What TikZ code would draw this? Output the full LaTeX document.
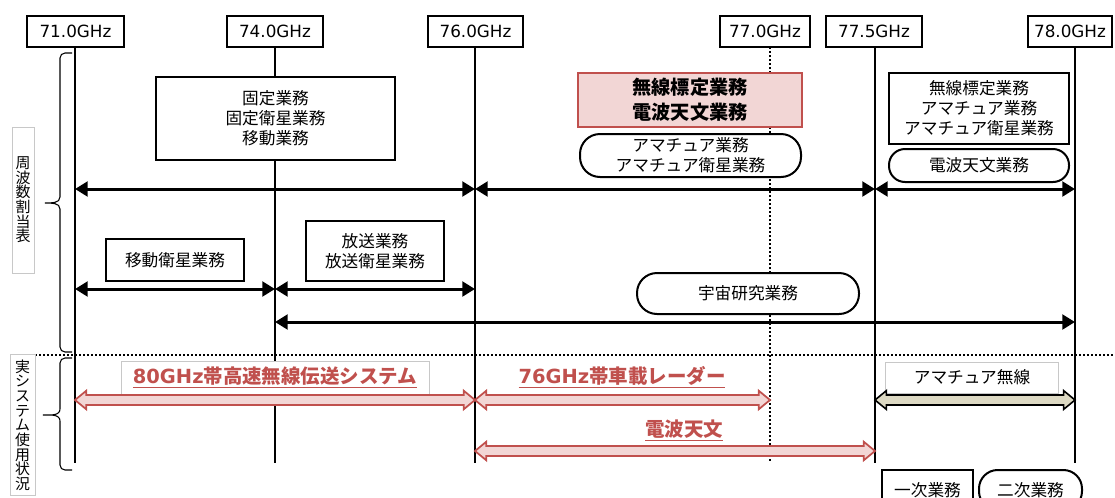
\documentclass[tikz,border=0pt]{standalone}
\usepackage{fontspec}
\setmainfont{DejaVu Sans}
\newfontfamily\jp{Noto Sans CJK JP}
\usetikzlibrary{arrows.meta,calc}
\definecolor{rd}{RGB}{192,80,77}
\definecolor{pk}{RGB}{242,214,213}
\definecolor{kh}{RGB}{221,217,195}
\definecolor{lg}{RGB}{200,200,200}
\newcommand\harr[3]{\draw[#3] let \p1=#1, \p2=#2 in
  (\x1,\y1) -- (\x1+8.5pt,\y1+7pt) -- (\x1+8.5pt,\y1+3.75pt) -- (\x2-8.5pt,\y1+3.75pt)
  -- (\x2-8.5pt,\y1+7pt) -- (\x2,\y1) -- (\x2-8.5pt,\y1-7pt) -- (\x2-8.5pt,\y1-3.75pt)
  -- (\x1+8.5pt,\y1-3.75pt) -- (\x1+8.5pt,\y1-7pt) -- cycle;}
\begin{document}
\begin{tikzpicture}[x=0.75pt,y=-0.75pt,
  freq/.style={draw,line width=1.5pt,minimum height=23.25pt,inner sep=0pt,font=\fontsize{12.6}{15}\selectfont},
  svc/.style={draw,line width=1.5pt,align=center,inner sep=0pt,font=\jp\fontsize{12.5}{15}\selectfont},
  pill/.style={svc,rounded corners=#1},
  vline/.style={line width=1.5pt},
  dline/.style={line width=1.2pt,dash pattern=on 1.5pt off 1.5pt},
  barr/.style={line width=2.25pt,{Triangle[length=9.5pt,width=11pt]}-{Triangle[length=9.5pt,width=11pt]}},
  redarr/.style={draw=rd,fill=pk,line width=1.3pt,line join=miter},
  khakiarr/.style={draw=black,fill=kh,line width=1.2pt,line join=miter},
  thinbox/.style={draw=lg,line width=0.75pt,fill=white,inner sep=0pt},
  redtxt/.style={text=rd,font=\jp\bfseries\fontsize{14.6}{18}\selectfont,inner sep=0pt},
  vlab/.style={draw=lg,line width=0.75pt,align=center,inner sep=0pt,font=\jp\fontsize{11.2}{11}\selectfont},
  brc/.style={line width=0.8pt}
]
\useasboundingbox (0,0) rectangle (1115,497);

% frequency labels
\node[freq,minimum width=72.75pt] (f71) at (75.5,31.5) {71.0GHz};
\node[freq,minimum width=72pt] (f74) at (275,31.5) {74.0GHz};
\node[freq,minimum width=71.25pt] (f76) at (475.5,31.5) {76.0GHz};
\node[freq,minimum width=67.5pt] (f77) at (765,31.5) {77.0GHz};
\node[freq,minimum width=72pt] (f775) at (874,31.5) {77.5GHz};
\node[freq,minimum width=63pt] (f78) at (1070,31.5) {78.0GHz};

\coordinate (x71) at (75,47);
\coordinate (x74) at (275,47);
\coordinate (x76) at (475,47);
\coordinate (x77) at (770,47);
\coordinate (x775) at (875,47);
\coordinate (x78) at (1075,47);
\coordinate (ybot) at (0,463);

\draw[vline] (x71) -- (x71 |- ybot);
\draw[vline] (x74) -- (x74 |- ybot);
\draw[vline] (x76) -- (x76 |- ybot);
\draw[dline] (x77) -- (x77 |- ybot);
\draw[vline] (x775) -- (x775 |- ybot);
\draw[vline] (x78) -- (x78 |- ybot);

% row coordinates
\coordinate (r1) at (0,189);
\coordinate (r2) at (0,289);
\coordinate (r3) at (0,322);
\coordinate (q1) at (0,400);
\coordinate (q2) at (0,451);

% service boxes
\node[svc,fill=white,minimum width=179.25pt,minimum height=62.25pt] (fixed) at (275.5,118.5) {固定業務\\固定衛星業務\\移動業務};
\node[draw=rd,fill=pk,line width=1.5pt,align=center,inner sep=0pt,minimum width=168pt,minimum height=40.5pt,
  font=\jp\bfseries\fontsize{14.4}{18.75}\selectfont] (radio) at (690,100) {無線標定業務\\電波天文業務};
\node[pill=15pt,fill=white,minimum width=165.75pt,minimum height=32.25pt] (ama1) at (690.5,155.5) {アマチュア業務\\アマチュア衛星業務};
\node[svc,fill=white,minimum width=135pt,minimum height=53.25pt] (rbox) at (979,108.5) {無線標定業務\\アマチュア業務\\アマチュア衛星業務};
\node[pill=12pt,fill=white,minimum width=135pt,minimum height=24.75pt] (den1) at (979,165.5) {電波天文業務};
\node[svc,fill=white,minimum width=103.5pt,minimum height=31.5pt] (ido) at (175,260) {移動衛星業務};
\node[svc,fill=white,minimum width=103.5pt,minimum height=45pt] (hoso) at (375,251) {放送業務\\放送衛星業務};
\node[pill=15pt,fill=white,minimum width=166.5pt,minimum height=30.75pt] (uchu) at (748,293.5) {宇宙研究業務};

% allocation arrows
\draw[barr] (x71 |- r1) -- (x76 |- r1);
\draw[barr] (x76 |- r1) -- (x775 |- r1);
\draw[barr] (x775 |- r1) -- (x78 |- r1);
\draw[barr] (x71 |- r2) -- (x74 |- r2);
\draw[barr] (x74 |- r2) -- (x76 |- r2);
\draw[barr] (x74 |- r3) -- (x78 |- r3);

% separator
\coordinate (sepL) at (35,355);
\coordinate (sepR) at (1115,355);
\draw[line width=1.5pt,dash pattern=on 1.5pt off 1.5pt] (sepL) -- (sepR);

% left labels and braces
\node[vlab,minimum width=16.5pt,minimum height=109.5pt] (lab1) at (23,200) {周\\波\\数\\割\\当\\表};
\node[vlab,minimum width=18.75pt,minimum height=105.75pt] (lab2) at (22.5,425) {実\\シ\\ス\\テ\\ム\\使\\用\\状\\況};
\draw[brc] (72,53) -- (65,53) to[out=180,in=90] (60,58) -- (60,197) to[out=270,in=0] (45,203)
  to[out=0,in=90] (60,209) -- (60,347) to[out=270,in=180] (65,352) -- (72,352);
\draw[brc] (72,358) -- (65,358) to[out=180,in=90] (60,363) -- (60,409) to[out=270,in=0] (43,415)
  to[out=0,in=90] (60,421) -- (60,465) to[out=270,in=180] (65,470) -- (72,470);

% real system usage
\node[thinbox,minimum width=231pt,minimum height=24.75pt] (s80) at (275,377.5) {};
\node[redtxt] (t80) at (s80) {\underline{\rmfamily\bfseries 80GHz\jp 帯高速無線伝送システム}};
\node[redtxt] (t76) at (622,377) {\underline{\rmfamily\bfseries 76GHz\jp 帯車載レーダー}};
\node[redtxt] (tden) at (684,430) {\underline{電波天文}};
\node[thinbox,minimum width=129.75pt,minimum height=23.25pt,font=\jp\fontsize{12.5}{15}\selectfont] (amat) at (972,377.5) {アマチュア無線};

\harr{(x71 |- q1)}{(x76 |- q1)}{redarr}
\harr{(x76 |- q1)}{(x77 |- q1)}{redarr}
\harr{(x76 |- q2)}{(x775 |- q2)}{redarr}
\harr{(x775 |- q1)}{(x78 |- q1)}{khakiarr}

% legend
\node[svc,fill=white,minimum width=68.25pt,minimum height=30pt] (prim) at (927.5,490) {一次業務};
\node[pill=14pt,fill=white,minimum width=77.25pt,minimum height=30pt] (sec) at (1030.5,490) {二次業務};
\end{tikzpicture}
\end{document}
